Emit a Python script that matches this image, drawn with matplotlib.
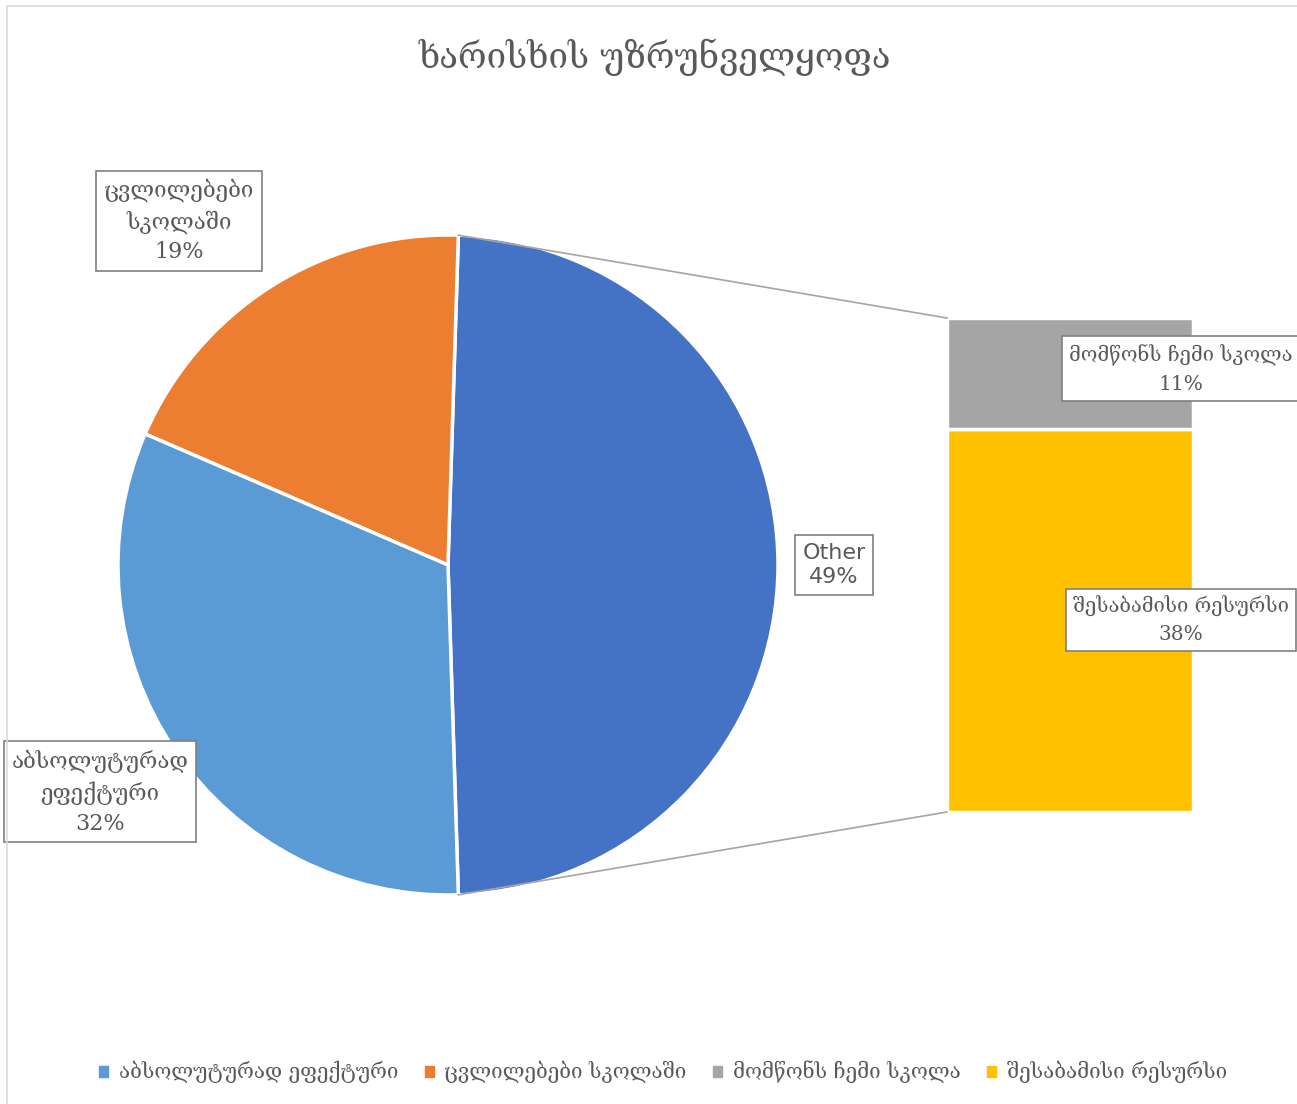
import matplotlib.pyplot as plt
import matplotlib.patches as mpatches
import numpy as np

plt.rcParams['font.family'] = ['DejaVu Serif', 'DejaVu Sans']

# Data
title = "ხარისხის უზრუნველყოფა"
pie_labels = ["Other", "ცვლილებები\nსკოლაში", "აბსოლუტურად\nეფექტური"]
pie_values = [49, 19, 32]
bar_labels = ["შესაბამისი რესურსი", "მომწონს ჩემი სკოლა"]
bar_values = [38, 11]
legend_labels = ["აბსოლუტურად ეფექტური", "ცვლილებები სკოლაში",
                 "მომწონს ჩემი სკოლა", "შესაბამისი რესურსი"]

pie_colors = ["#4472C4", "#ED7D31", "#5B9BD5"]
bar_colors = ["#FFC000", "#A5A5A5"]
legend_colors = ["#5B9BD5", "#ED7D31", "#A5A5A5", "#FFC000"]
text_color = "#595959"

W, H = 1297, 1104
fig = plt.figure(figsize=(W / 100, H / 100), dpi=100)
ax = fig.add_axes([0, 0, 1, 1])

# pie
cx, cy, r = 448, H - 565, 330
half = pie_values[0] / 100 * 180
wedges, _ = ax.pie(pie_values, colors=pie_colors, startangle=-half,
                   counterclock=True, center=(cx, cy), radius=r,
                   wedgeprops=dict(edgecolor="white", linewidth=2.5))

# bar of the "Other" slice
bar_x, bar_w = 947, 246
bar_total_px = 494
scale = bar_total_px / sum(bar_values)
bar_bottom = H - 812
bottoms = np.concatenate([[0], np.cumsum(bar_values)[:-1]]) * scale + bar_bottom
ax.bar([bar_x + bar_w / 2] * len(bar_values), np.array(bar_values) * scale,
       width=bar_w, bottom=bottoms, color=bar_colors,
       edgecolor="white", linewidth=2.5)

# connector lines
a = np.deg2rad(half)
top_pt = (cx + r * np.cos(a), cy + r * np.sin(a))
bot_pt = (cx + r * np.cos(-a), cy + r * np.sin(-a))
bar_top = bar_bottom + sum(bar_values) * scale
ax.plot([top_pt[0], bar_x], [top_pt[1], bar_top], color="#A5A5A5", lw=1.2)
ax.plot([bot_pt[0], bar_x], [bot_pt[1], bar_bottom], color="#A5A5A5", lw=1.2)

box = dict(boxstyle="square,pad=0.35", fc="white", ec="#7F7F7F", lw=1.2)
fs = 16
ls = 1.45

# pie labels
ax.text(834, H - 565, f"{pie_labels[0]}\n{pie_values[0]}%", ha="center",
        va="center", fontsize=fs, color=text_color, family="DejaVu Sans",
        bbox=box, linespacing=1.3)
ax.text(179, H - 221, f"{pie_labels[1]}\n{pie_values[1]}%", ha="center",
        va="center", fontsize=fs, color=text_color, bbox=box, linespacing=ls)
ax.text(100, H - 792, f"{pie_labels[2]}\n{pie_values[2]}%", ha="center",
        va="center", fontsize=fs, color=text_color, bbox=box, linespacing=ls)

# bar labels
ax.text(1181, H - 620, f"{bar_labels[0]}\n{bar_values[0]}%", ha="center",
        va="center", fontsize=14.5, color=text_color, bbox=box,
        linespacing=1.55)
ax.text(1181, H - 369, f"{bar_labels[1]}\n{bar_values[1]}%", ha="center",
        va="center", fontsize=14.5, color=text_color, bbox=box,
        linespacing=1.55)

# title
ax.text(655, H - 57, title, ha="center", va="center", fontsize=25,
        color=text_color)

ax.set_xlim(0, W)
ax.set_ylim(0, H)
ax.set_aspect("auto")
ax.axis("off")

# chart border
fig.patches.append(mpatches.Rectangle((7 / W, -0.01), 1.1, 1 - 6 / H + 0.01,
                                      transform=fig.transFigure, fill=False,
                                      ec="#D9D9D9", lw=1.2))

handles = [mpatches.Patch(color=c) for c in legend_colors]
fig.legend(handles, legend_labels, ncol=4, loc="center",
           bbox_to_anchor=(663 / W, 1 - 1072 / H), frameon=False,
           fontsize=14.8, handlelength=0.45, handleheight=0.45,
           handletextpad=0.5, columnspacing=1.3, labelcolor=text_color)

fig.savefig("out.png", dpi=100)
